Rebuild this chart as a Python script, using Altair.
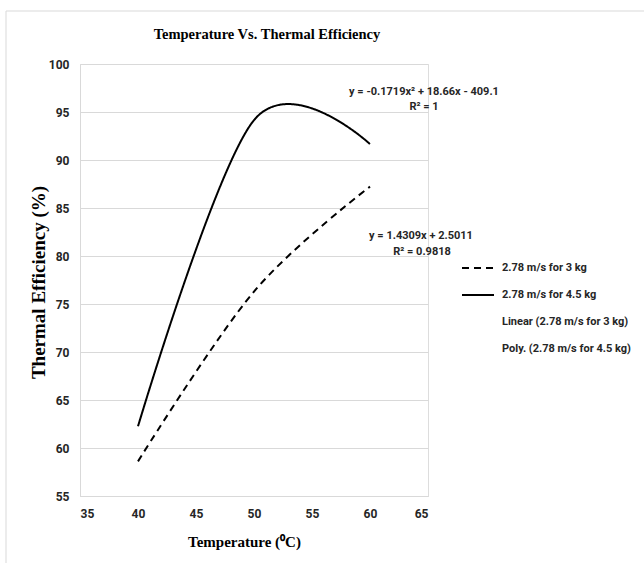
import altair as alt
import pandas as pd

# ---- data ----
temperature = [40, 50, 60]
eff_3kg = [58.61, 76.30, 87.23]
eff_45kg = [62.26, 94.15, 91.66]
series_names = [
    "2.78 m/s for 3 kg",
    "2.78 m/s for 4.5 kg",
    "Linear (2.78 m/s for 3 kg)",
    "Poly. (2.78 m/s for 4.5 kg)",
]
x_ticks = [35, 40, 45, 50, 55, 60, 65]
y_ticks = [55, 60, 65, 70, 75, 80, 85, 90, 95, 100]
eq_poly = "y = -0.1719x² + 18.66x - 409.1"
r2_poly = "R² = 1"
eq_lin = "y = 1.4309x + 2.5011"
r2_lin = "R² = 0.9818"

chart_title = "Temperature Vs. Thermal Efficiency"
x_title = "Temperature (⁰C)"
y_title = "Thermal Efficiency (%)"

df = pd.DataFrame({
    "Temperature": temperature + temperature,
    "Efficiency": eff_3kg + eff_45kg,
    "series": [series_names[0]] * len(temperature) + [series_names[1]] * len(temperature),
})

W, H = 348, 432
GRID = "#d9d9d9"
SANS = "Liberation Sans Narrow, Roboto, sans-serif"
SERIF = "Liberation Serif"
INK = "#262626"

lines = alt.Chart(df).mark_line(interpolate="cardinal", tension=0, strokeWidth=2).encode(
    x=alt.X("Temperature:Q",
            scale=alt.Scale(domain=[35, 65], nice=False, zero=False),
            axis=alt.Axis(values=x_ticks, grid=False, ticks=False, domainColor=GRID,
                          labelFont=SANS, labelFontSize=12, labelFontWeight="bold",
                          labelColor=INK, labelPadding=12,
                          title=x_title, titleFont=SERIF, titleFontSize=15,
                          titleFontWeight="bold", titleColor="#000",
                          titleX=164, titleY=50, titleBaseline="alphabetic",
                          titleAlign="center")),
    y=alt.Y("Efficiency:Q",
            scale=alt.Scale(domain=[55, 100], nice=False, zero=False),
            axis=alt.Axis(values=y_ticks, grid=True, gridColor=GRID, ticks=False,
                          domainColor=GRID,
                          labelFont=SANS, labelFontSize=12, labelFontWeight="bold",
                          labelColor=INK, labelPadding=11,
                          title=y_title, titleFont=SERIF, titleFontSize=19,
                          titleFontWeight="bold", titleColor="#000",
                          titleAngle=270, titleX=-42, titleY=218,
                          titleBaseline="middle", titleAlign="center")),
    color=alt.Color("series:N",
                    scale=alt.Scale(domain=series_names,
                                    range=["black", "black", "transparent", "transparent"]),
                    legend=alt.Legend(title=None, orient="none", legendX=392, legendY=198,
                                      symbolType="M-3.2,0H3.2", symbolSize=100,
                                      symbolStrokeWidth=2, labelOffset=18,
                                      labelFont=SANS, labelFontSize=11,
                                      labelFontWeight="bold", labelColor=INK,
                                      rowPadding=16, labelLimit=300)),
    strokeDash=alt.StrokeDash("series:N",
                              scale=alt.Scale(domain=series_names,
                                              range=[[7, 5], [1, 0], [1, 0], [1, 0]]),
                              legend=alt.Legend(title=None)),
)

def label(txt, px, py, font, size, color):
    return alt.Chart(pd.DataFrame({"t": [txt]})).mark_text(
        font=font, fontSize=size, fontWeight="bold", color=color,
        align="center", baseline="middle").encode(
        x=alt.value(px), y=alt.value(py), text="t:N")

notes = [
    label(eq_poly, 344, 28, SANS, 11, INK),
    label(r2_poly, 344, 43, SANS, 11, INK),
    label(eq_lin, 341, 172, SANS, 11, INK),
    label(r2_lin, 342, 188, SANS, 11, INK),
    label(chart_title, 187, -29, SERIF, 14.5, "#000"),
]

one = pd.DataFrame({"k": [0]})
frame_top = alt.Chart(one).mark_rule(color=GRID, strokeWidth=1, clip=False).encode(
    x=alt.value(-74), x2=alt.value(564), y=alt.value(-53))
frame_left = alt.Chart(one).mark_rule(color=GRID, strokeWidth=1, clip=False).encode(
    x=alt.value(-74), y=alt.value(-53), y2=alt.value(499))

chart = alt.layer(frame_top, frame_left, lines, *notes).properties(
    width=W, height=H,
    padding={"left": 80, "top": 64, "right": 216, "bottom": 67},
    autosize=alt.AutoSizeParams(type="none"),
).configure_view(stroke=None).configure(background="white")

chart.save("out.html", embed_options={"renderer": "svg", "actions": False})
